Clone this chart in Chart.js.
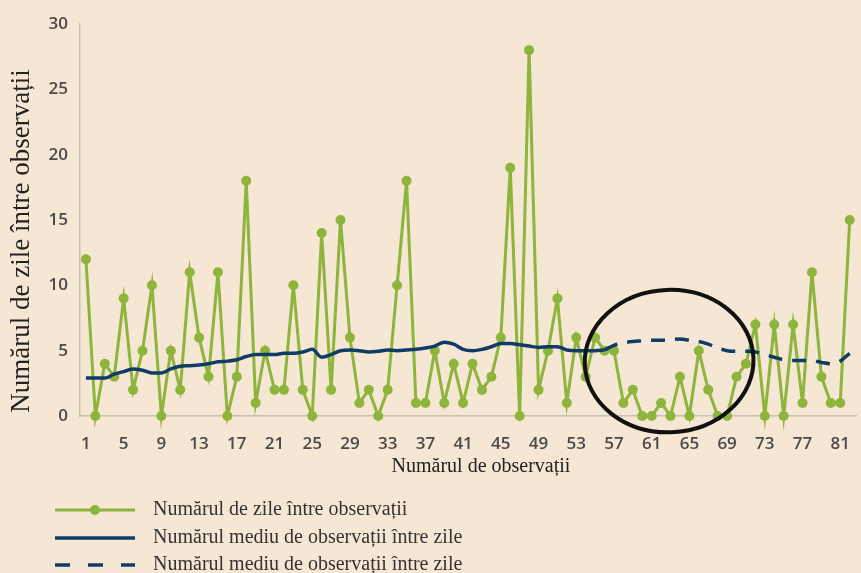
<!DOCTYPE html>
<html lang="ro">
<head>
  <meta charset="UTF-8">
  <title>Numărul de zile între observații</title>
  <script src="https://cdn.jsdelivr.net/npm/chart.js"></script>
  <style>
    html, body { margin: 0; padding: 0; background: #f6e6d4; overflow: hidden; }
    #wrap { width: 861px; height: 573px; }
  </style>
</head>
<body>
  <div id="wrap"><canvas id="chart" width="861" height="573"></canvas></div>

  <script>
    // x tick labels (observation numbers shown on the axis)
    const xTicks = [1, 5, 9, 13, 17, 21, 25, 29, 33, 37, 41, 45, 49, 53, 57, 61, 65, 69, 73, 77, 81];
    const yTicks = [0, 5, 10, 15, 20, 25, 30];

    // days between consecutive observations (82 observations)
    const daysBetween = [
      12, 0, 4, 3, 9, 2, 5, 10, 0, 5,
      2, 11, 6, 3, 11, 0, 3, 18, 1, 5,
      2, 2, 10, 2, 0, 14, 2, 15, 6, 1,
      2, 0, 2, 10, 18, 1, 1, 5, 1, 4,
      1, 4, 2, 3, 6, 19, 0, 28, 2, 5,
      9, 1, 6, 3, 6, 5, 5, 1, 2, 0,
      0, 1, 0, 3, 0, 5, 2, 0, 0, 3,
      4, 7, 0, 7, 0, 7, 1, 11, 3, 1,
      1, 15
    ];

    // mean line, solid part (observations 1..56)
    const meanSolid = [
      2.9, 2.9, 2.9, 3.2, 3.4, 3.6, 3.5, 3.3, 3.3, 3.6,
      3.8, 3.85, 3.9, 4.0, 4.15, 4.2, 4.3, 4.55, 4.7, 4.7,
      4.7, 4.8, 4.8, 4.9, 5.1, 4.5, 4.7, 5.0, 5.05, 5.0,
      4.9, 4.95, 5.05, 5.0, 5.05, 5.1, 5.2, 5.35, 5.65, 5.5,
      5.1, 5.0, 5.1, 5.3, 5.55, 5.55, 5.45, 5.35, 5.25, 5.3,
      5.3, 5.05, 5.0, 5.0, 5.0, 5.05
    ];
    // mean line, dashed part (observations 56..82)
    const meanDashedStart = 56;
    const meanDashed = [
      5.05, 5.4, 5.6, 5.7, 5.75, 5.8, 5.8, 5.85, 5.9, 5.8,
      5.7, 5.5, 5.2, 5.0, 4.95, 4.95, 4.9, 4.7, 4.5, 4.3,
      4.25, 4.25, 4.25, 4.1, 4.0, 4.2, 4.8
    ];

    const labels = [
      'Numărul de zile între observații',
      'Numărul mediu de observații între zile',
      'Numărul mediu de observații între zile'
    ];
    const yTitle = 'Numărul de zile între observații';
    const xTitle = 'Numărul de observații';

    // hand-drawn highlight ellipse, in data units (observation, days)
    const ringObs = [53.9, 71.8];
    const ringVal = [-1.25, 9.65];

    const GREEN = '#8db43b';
    const NAVY = '#0f3c66';
    const BG = '#f6e6d4';
    const TICK_FONT = '600 17px "Open Sans", sans-serif';

    const greenPts = daysBetween.map((v, i) => ({ x: i + 1, y: v }));
    const solidPts = meanSolid.map((v, i) => ({ x: i + 1, y: v }));
    const dashedPts = meanDashed.map((v, i) => ({ x: meanDashedStart + i, y: v }));

    const bgPlugin = {
      id: 'bg',
      beforeDraw(chart) {
        const ctx = chart.ctx;
        ctx.save();
        ctx.fillStyle = BG;
        ctx.fillRect(0, 0, chart.width, chart.height);
        ctx.restore();
      }
    };

    const ringPlugin = {
      id: 'ring',
      afterDatasetsDraw(chart) {
        const { ctx, scales } = chart;
        const x0 = scales.x.getPixelForValue(ringObs[0]);
        const x1 = scales.x.getPixelForValue(ringObs[1]);
        const y0 = scales.y.getPixelForValue(ringVal[1]);
        const y1 = scales.y.getPixelForValue(ringVal[0]);
        ctx.save();
        ctx.strokeStyle = '#111';
        ctx.lineWidth = 4;
        ctx.beginPath();
        ctx.ellipse((x0 + x1) / 2, (y0 + y1) / 2, (x1 - x0) / 2, (y1 - y0) / 2, -0.04, 0, Math.PI * 2);
        ctx.stroke();
        ctx.restore();
      }
    };

    // x tick labels, axis titles and legend, drawn under the plot
    const textPlugin = {
      id: 'texts',
      afterDraw(chart) {
        const ctx = chart.ctx;
        const area = chart.chartArea;
        const xs = chart.scales.x;
        ctx.save();
        ctx.textAlign = 'center';
        ctx.textBaseline = 'middle';
        // x ticks
        ctx.fillStyle = '#4a4a4a';
        ctx.font = TICK_FONT;
        xTicks.forEach(v => ctx.fillText(String(v), xs.getPixelForValue(v), area.bottom + 28));
        ctx.fillStyle = '#222';
        // y title
        ctx.save();
        ctx.translate(22, 241);
        ctx.rotate(-Math.PI / 2);
        ctx.font = '27px "Liberation Serif", serif';
        ctx.fillText(yTitle, 0, 0);
        ctx.restore();
        // x title
        ctx.font = '20px "Liberation Serif", serif';
        ctx.fillText(xTitle, 481, area.bottom + 51);

        const rows = [510, 538, 565];
        const sx0 = 55, sx1 = 135, tx = 153;
        // green line with a dot
        ctx.strokeStyle = GREEN; ctx.lineWidth = 3;
        ctx.beginPath(); ctx.moveTo(sx0, rows[0]); ctx.lineTo(sx1, rows[0]); ctx.stroke();
        ctx.fillStyle = GREEN;
        ctx.beginPath(); ctx.arc((sx0 + sx1) / 2, rows[0], 5, 0, Math.PI * 2); ctx.fill();
        // solid navy
        ctx.strokeStyle = NAVY; ctx.lineWidth = 3.5;
        ctx.beginPath(); ctx.moveTo(sx0, rows[1]); ctx.lineTo(sx1, rows[1]); ctx.stroke();
        // dashed navy
        ctx.setLineDash([15, 18]);
        ctx.beginPath(); ctx.moveTo(sx0, rows[2]); ctx.lineTo(sx1, rows[2]); ctx.stroke();
        ctx.setLineDash([]);
        ctx.fillStyle = '#333';
        ctx.textAlign = 'left';
        labels.forEach((t, i) => ctx.fillText(t, tx, rows[i]));
        ctx.restore();
      }
    };

    new Chart(document.getElementById('chart'), {
      type: 'line',
      data: {
        datasets: [
          {
            label: labels[0],
            data: greenPts,
            borderColor: GREEN,
            backgroundColor: GREEN,
            borderWidth: 3,
            pointRadius: 5,
            pointBorderWidth: 0,
            tension: 0,
            order: 2
          },
          {
            label: labels[1],
            data: solidPts,
            borderColor: NAVY,
            borderWidth: 3.5,
            pointRadius: 0,
            cubicInterpolationMode: 'monotone',
            order: 1
          },
          {
            label: labels[2],
            data: dashedPts,
            borderColor: NAVY,
            borderWidth: 3.5,
            borderDash: [14, 10],
            pointRadius: 0,
            cubicInterpolationMode: 'monotone',
            order: 1
          }
        ]
      },
      options: {
        responsive: false,
        animation: false,
        clip: false,
        layout: { padding: { top: 24, right: 0, left: 0, bottom: 157 } },
        plugins: {
          legend: { display: false },
          tooltip: { enabled: false }
        },
        scales: {
          x: {
            type: 'linear',
            min: 0.37,
            max: 82.67,
            afterBuildTicks: s => { s.ticks = xTicks.map(v => ({ value: v })); },
            grid: { display: false, drawTicks: false },
            border: { color: '#c9c0b4', width: 1.5 },
            ticks: { display: false }
          },
          y: {
            min: 0,
            max: 30,
            afterBuildTicks: s => { s.ticks = yTicks.map(v => ({ value: v })); },
            afterFit: s => { s.width = 80; },
            grid: { display: false, drawTicks: false },
            border: { color: '#c9c0b4', width: 1.5 },
            ticks: {
              color: '#4a4a4a',
              font: { family: '"Open Sans", sans-serif', size: 17, weight: '600' },
              padding: 12
            }
          }
        }
      },
      plugins: [bgPlugin, ringPlugin, textPlugin]
    });
  </script>
</body>
</html>
